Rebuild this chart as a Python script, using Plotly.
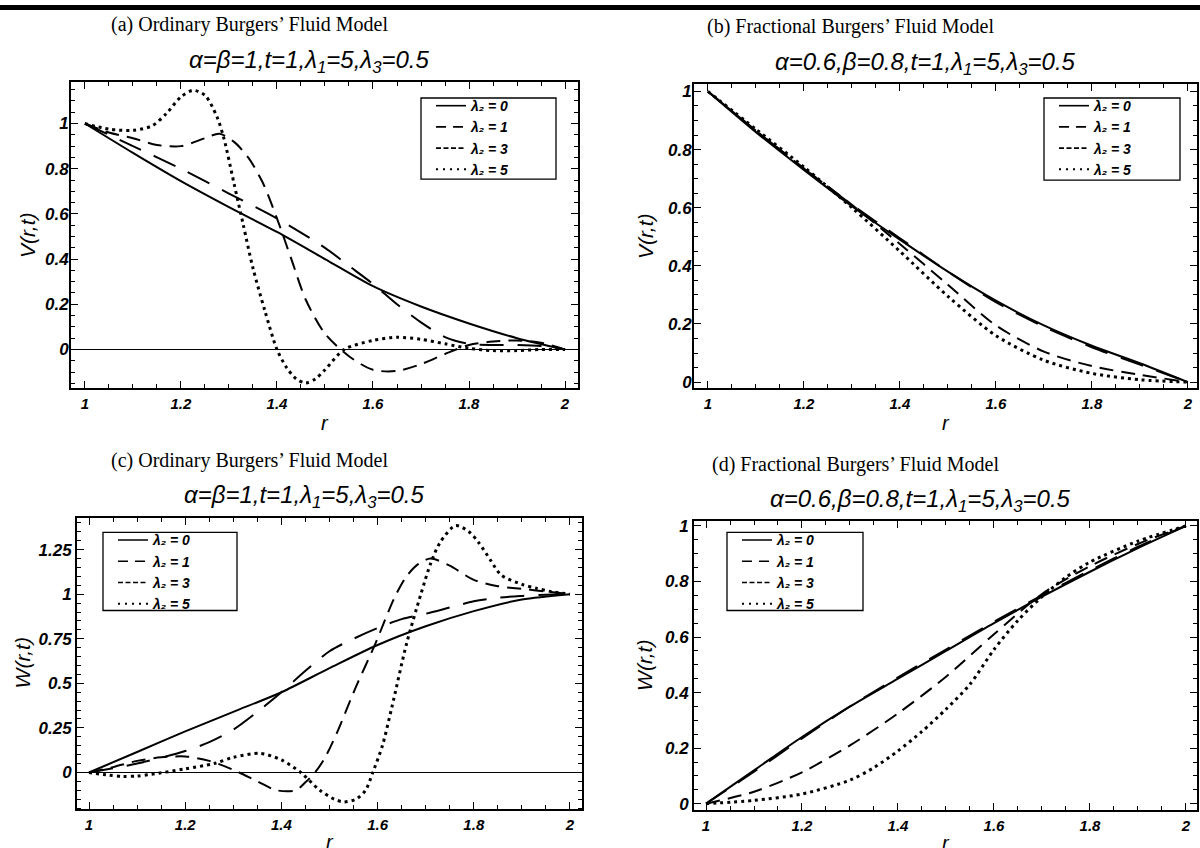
import plotly.graph_objects as go

W_PX, H_PX = 1200, 848

# ---------------- data ----------------
# (a) Ordinary Burgers' fluid, V(r,t)
ra0 = [1.0, 1.1, 1.2, 1.3, 1.4, 1.5, 1.6, 1.7, 1.8, 1.9, 2.0]
va0 = [1.0, 0.87, 0.745, 0.63, 0.52, 0.40, 0.28, 0.19, 0.115, 0.05, 0.0]
ra1 = [1.0, 1.1, 1.2, 1.3, 1.4, 1.5, 1.55, 1.6, 1.65, 1.7, 1.75, 1.8, 1.85, 1.9, 1.95, 2.0]
va1 = [1.0, 0.9, 0.8, 0.69, 0.58, 0.45, 0.37, 0.29, 0.2, 0.12, 0.055, 0.025, 0.02, 0.02, 0.015, 0.0]
ra3 = [1.0, 1.05, 1.1, 1.15, 1.2, 1.25, 1.28, 1.31, 1.34, 1.37, 1.4, 1.43, 1.46, 1.5, 1.55,
       1.6, 1.65, 1.7, 1.75, 1.8, 1.85, 1.9, 1.95, 2.0]
va3 = [1.0, 0.96, 0.935, 0.905, 0.9, 0.935, 0.955, 0.92, 0.85, 0.74, 0.58, 0.4, 0.22, 0.07, -0.03,
       -0.09, -0.095, -0.065, -0.02, 0.02, 0.035, 0.04, 0.03, 0.0]
ra5 = [1.0, 1.05, 1.1, 1.14, 1.17, 1.2, 1.225, 1.25, 1.275, 1.29, 1.31, 1.33, 1.35, 1.375, 1.4,
       1.42, 1.44, 1.46, 1.48, 1.5, 1.54, 1.6, 1.65, 1.7, 1.75, 1.8, 1.85, 1.9, 1.95, 2.0]
va5 = [1.0, 0.975, 0.97, 0.99, 1.045, 1.118, 1.147, 1.125, 1.03, 0.93, 0.74, 0.55, 0.36, 0.17, 0.0,
       -0.08, -0.13, -0.148, -0.13, -0.09, 0.0, 0.04, 0.054, 0.045, 0.025, 0.005, -0.005, -0.005, 0.0, 0.0]

# (b) Fractional Burgers' fluid, V(r,t)
rb = [1.0, 1.1, 1.2, 1.3, 1.4, 1.5, 1.6, 1.7, 1.8, 1.9, 2.0]
vb0 = [1.0, 0.86, 0.73, 0.605, 0.49, 0.38, 0.28, 0.195, 0.125, 0.065, 0.0]
vb1 = [1.0, 0.865, 0.735, 0.61, 0.495, 0.38, 0.275, 0.19, 0.12, 0.06, 0.0]
vb3 = [1.0, 0.865, 0.735, 0.61, 0.475, 0.335, 0.195, 0.105, 0.055, 0.025, 0.0]
vb5 = [1.0, 0.87, 0.74, 0.6, 0.45, 0.295, 0.16, 0.075, 0.03, 0.008, 0.0]

# (c) Ordinary Burgers' fluid, W(r,t)
rc0 = [1.0, 1.1, 1.2, 1.3, 1.4, 1.5, 1.6, 1.7, 1.8, 1.9, 2.0]
wc0 = [0.0, 0.115, 0.23, 0.34, 0.45, 0.585, 0.715, 0.82, 0.905, 0.97, 1.0]
rc1 = [1.0, 1.1, 1.2, 1.25, 1.3, 1.35, 1.4, 1.45, 1.5, 1.55, 1.6, 1.65, 1.7, 1.75, 1.8, 1.85, 1.9, 1.95, 2.0]
wc1 = [0.0, 0.05, 0.12, 0.17, 0.24, 0.34, 0.45, 0.57, 0.68, 0.75, 0.81, 0.86, 0.89, 0.925, 0.96, 0.98, 0.99, 0.997, 1.0]
rc3 = [1.0, 1.05, 1.1, 1.15, 1.2, 1.25, 1.3, 1.35, 1.39, 1.43, 1.45, 1.47, 1.49, 1.515, 1.555,
       1.595, 1.635, 1.66, 1.685, 1.71, 1.75, 1.8, 1.85, 1.9, 1.95, 2.0]
wc3 = [0.0, 0.03, 0.065, 0.085, 0.09, 0.065, 0.015, -0.05, -0.1, -0.1, -0.055, 0.0, 0.08, 0.22, 0.48,
       0.72, 0.98, 1.1, 1.17, 1.2, 1.16, 1.08, 1.045, 1.03, 1.015, 1.0]
rc5 = [1.0, 1.04, 1.07, 1.1, 1.13, 1.2, 1.26, 1.3, 1.356, 1.4, 1.44, 1.48, 1.51, 1.53, 1.555, 1.575,
       1.59, 1.61, 1.63, 1.66, 1.69, 1.71, 1.73, 1.762, 1.79, 1.81, 1.835, 1.857, 1.9, 1.93, 1.96, 2.0]
wc5 = [0.0, -0.015, -0.022, -0.02, -0.01, 0.02, 0.05, 0.085, 0.107, 0.07, 0.0, -0.1, -0.15, -0.165,
       -0.15, -0.1, 0.0, 0.15, 0.37, 0.72, 1.0, 1.17, 1.29, 1.385, 1.35, 1.29, 1.19, 1.107, 1.055,
       1.033, 1.015, 1.0]

# (d) Fractional Burgers' fluid, W(r,t)
rd = [1.0, 1.1, 1.2, 1.3, 1.4, 1.5, 1.6, 1.7, 1.8, 1.9, 2.0]
wd0 = [0.0, 0.12, 0.24, 0.35, 0.45, 0.55, 0.65, 0.745, 0.835, 0.92, 1.0]
wd1 = [0.0, 0.115, 0.235, 0.35, 0.455, 0.555, 0.655, 0.75, 0.84, 0.925, 1.0]
wd3 = [0.0, 0.043, 0.113, 0.21, 0.325, 0.457, 0.61, 0.755, 0.855, 0.935, 1.0]
rd5 = [1.0, 1.1, 1.2, 1.3, 1.35, 1.4, 1.45, 1.5, 1.55, 1.6, 1.65, 1.7, 1.75, 1.8, 1.9, 2.0]
wd5 = [0.0, 0.012, 0.035, 0.085, 0.13, 0.19, 0.26, 0.34, 0.43, 0.555, 0.66, 0.745, 0.815, 0.87, 0.945, 1.0]

lam_labels = ["λ₂ = 0", "λ₂ = 1", "λ₂ = 3", "λ₂ = 5"]
x_ticks = [1, 1.2, 1.4, 1.6, 1.8, 2]

titles = ["(a) Ordinary Burgers’ Fluid Model", "(b) Fractional Burgers’ Fluid Model",
          "(c) Ordinary Burgers’ Fluid Model", "(d) Fractional Burgers’ Fluid Model"]
subtitles = ["α=β=1,t=1,λ<sub>1</sub>=5,λ<sub>3</sub>=0.5",
             "α=0.6,β=0.8,t=1,λ<sub>1</sub>=5,λ<sub>3</sub>=0.5",
             "α=β=1,t=1,λ<sub>1</sub>=5,λ<sub>3</sub>=0.5",
             "α=0.6,β=0.8,t=1,λ<sub>1</sub>=5,λ<sub>3</sub>=0.5"]
ylabels = ["V(r,t)", "V(r,t)", "W(r,t)", "W(r,t)"]

# ---------------- styles ----------------
curve_dash = ["solid", "24px,14px", "14px,8px", "3px,4px"]
legend_dash = ["solid", "10px,7px", "5px,2.5px", "2px,5px"]
widths = [2, 2, 2, 3]
legend_widths = [1.6, 1.6, 1.6, 2]

def px(x):
    return x / W_PX

def py(y):
    return 1 - y / H_PX

# plot frames in pixels: (left, top, right, bottom)
frames = [(71, 78, 578, 387), (694, 80, 1197, 387), (77, 518, 582, 813), (694, 522, 1197, 814)]
xranges = [(0.971, 2.027), (0.971, 2.019), (0.975, 2.025), (0.975, 2.023)]
yranges = [(-0.17, 1.183), (-0.02, 1.025), (-0.207, 1.43), (-0.024, 1.016)]
ydticks = [0.2, 0.2, 0.25, 0.2]
zerolines = [True, False, True, False]
legend_boxes = [(421, 94, 556, 176), (1044, 94, 1180, 177), (103, 533, 237, 612), (727, 533, 863, 612)]
ylabel_x = [27, 645, 22, 645]
ytick_standoff = [-3, -3, 0, 0]
title_dx = [-75, -95, -80, -90]
subtitle_dx = [-15, -20, -25, -25]

panels = [
    [(ra0, va0), (ra1, va1), (ra3, va3), (ra5, va5)],
    [(rb, vb0), (rb, vb1), (rb, vb3), (rb, vb5)],
    [(rc0, wc0), (rc1, wc1), (rc3, wc3), (rc5, wc5)],
    [(rd, wd0), (rd, wd1), (rd, wd3), (rd5, wd5)],
]

xtick_font = dict(family="Liberation Sans", size=15, color="black", weight="bold", style="italic")
ytick_font = dict(family="Liberation Sans", size=17, color="black", weight="bold", style="italic")

fig = go.Figure()
layout = dict(width=W_PX, height=H_PX, margin=dict(l=0, r=0, t=0, b=0),
              paper_bgcolor="white", plot_bgcolor="white", annotations=[], shapes=[])

for p in range(4):
    sfx = "" if p == 0 else str(p + 1)
    leg = "legend" if p == 0 else "legend" + str(p + 1)
    for k, (xs, ys) in enumerate(panels[p]):
        fig.add_trace(go.Scatter(
            x=xs, y=ys, mode="lines", name=lam_labels[k],
            line=dict(color="black", width=widths[k], dash=curve_dash[k], shape="spline", smoothing=0.8),
            xaxis="x" + sfx, yaxis="y" + sfx, showlegend=False))
    # legend-only entries (legend samples use their own dash lengths)
    for k in range(4):
        fig.add_trace(go.Scatter(
            x=[None], y=[None], mode="lines", name=lam_labels[k],
            line=dict(color="black", width=legend_widths[k], dash=legend_dash[k]),
            xaxis="x" + sfx, yaxis="y" + sfx, legend=leg, showlegend=True))
    l, t, r, b = frames[p]
    minor = dict(ticks="inside", ticklen=4, tickwidth=1, tickcolor="black", dtick=0.05, showgrid=False)
    axis_common = dict(showline=True, linecolor="black", linewidth=2, mirror="allticks",
                       ticks="inside", ticklen=7, tickwidth=1.3, tickcolor="black",
                       showgrid=False)
    layout["xaxis" + sfx] = dict(axis_common, domain=[px(l), px(r)], range=list(xranges[p]),
                                 tickvals=x_ticks, zeroline=False, tickfont=xtick_font,
                                 anchor="y" + sfx, ticklabelstandoff=1,
                                 minor=dict(minor, tick0=1))
    layout["yaxis" + sfx] = dict(axis_common, domain=[py(b), py(t)], range=list(yranges[p]),
                                 dtick=ydticks[p], tick0=0, anchor="x" + sfx, tickfont=ytick_font,
                                 zeroline=zerolines[p], zerolinecolor="black", zerolinewidth=1.3,
                                 ticklabelstandoff=ytick_standoff[p], minor=dict(minor, tick0=0))
    bl, bt, br, bb = legend_boxes[p]
    layout["shapes"].append(dict(type="rect", xref="paper", yref="paper",
                                 x0=px(bl), x1=px(br), y0=py(bb), y1=py(bt),
                                 fillcolor="white", line=dict(color="black", width=1.3), layer="above"))
    layout[leg] = dict(x=px(bl + 10), y=py(bt - 8), xanchor="left", yanchor="top",
                       bgcolor="rgba(0,0,0,0)", borderwidth=0,
                       font=dict(family="Liberation Sans", size=14, color="black",
                                 weight="bold", style="italic"),
                       tracegroupgap=0, itemwidth=30)
    cx = (l + r) / 2
    # panel title
    layout["annotations"].append(dict(
        text=titles[p], xref="paper", yref="paper", x=px(cx + title_dx[p]),
        y=py(t - 58), xanchor="center", yanchor="middle", showarrow=False,
        font=dict(family="Liberation Serif", size=20, color="black")))
    # parameter line
    layout["annotations"].append(dict(
        text=subtitles[p], xref="paper", yref="paper", x=px(cx + subtitle_dx[p]),
        y=py(t - 21), xanchor="center", yanchor="middle", showarrow=False,
        font=dict(family="Liberation Sans", size=24, color="black", style="italic")))
    # y label
    layout["annotations"].append(dict(
        text=ylabels[p], xref="paper", yref="paper", x=px(ylabel_x[p]), y=py((t + b) / 2),
        xanchor="center", yanchor="middle", showarrow=False, textangle=-90,
        font=dict(family="Liberation Sans", size=21, color="black", style="italic")))
    # x label
    layout["annotations"].append(dict(
        text="r", xref="paper", yref="paper", x=px(cx), y=py(b + (35 if p < 2 else 33)),
        xanchor="center", yanchor="middle", showarrow=False,
        font=dict(family="Liberation Sans", size=20, color="black", style="italic")))

# top separator bar
layout["shapes"].append(dict(type="rect", xref="paper", yref="paper", x0=0, x1=1,
                             y0=py(5), y1=1, fillcolor="black", line=dict(width=0)))

fig.update_layout(**layout)
fig.write_html("out.html", config={"displayModeBar": False},
               post_script="document.body.style.margin='0px';")
